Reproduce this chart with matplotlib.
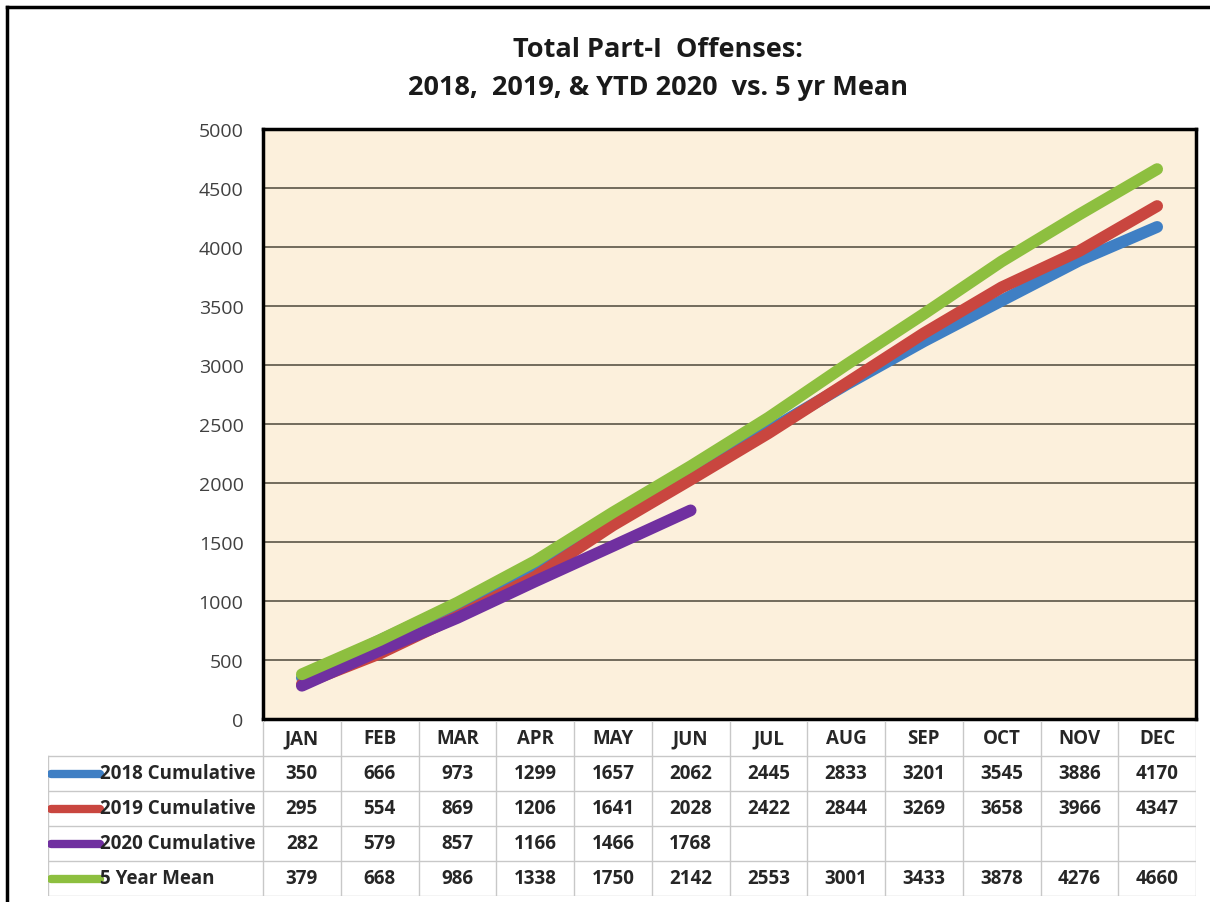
import numpy as np
import matplotlib.pyplot as plt
from matplotlib.lines import Line2D

months = ['JAN', 'FEB', 'MAR', 'APR', 'MAY', 'JUN',
          'JUL', 'AUG', 'SEP', 'OCT', 'NOV', 'DEC']
cum_2018 = [350, 666, 973, 1299, 1657, 2062, 2445, 2833, 3201, 3545, 3886, 4170]
cum_2019 = [295, 554, 869, 1206, 1641, 2028, 2422, 2844, 3269, 3658, 3966, 4347]
cum_2020 = [282, 579, 857, 1166, 1466, 1768]
mean_5yr = [379, 668, 986, 1338, 1750, 2142, 2553, 3001, 3433, 3878, 4276, 4660]

series = [
    ('2018 Cumulative', cum_2018, '#3f7fc4'),
    ('2019 Cumulative', cum_2019, '#c9463f'),
    ('2020 Cumulative', cum_2020, '#7030a0'),
    ('5 Year Mean', mean_5yr, '#8dbf3f'),
]

plt.rcParams['font.family'] = ['Open Sans', 'DejaVu Sans']

W, H = 1210, 903
fig = plt.figure(figsize=(12.1, 9.03), dpi=100)


def box(l, t, r, b):
    # pixel box -> figure fraction
    return [l / W, 1 - b / H, (r - l) / W, (b - t) / H]


# main chart
ax = fig.add_axes(box(263, 130, 1196, 720))
ax.set_facecolor('#fcf0dc')
x = np.arange(len(months))
for label, vals, color in series:
    ax.plot(x[:len(vals)], vals, color=color, lw=8.5, solid_capstyle='round')

ax.set_xlim(-0.5, 11.5)
ax.set_ylim(0, 5000)
ax.set_yticks(range(0, 5001, 500))
ax.yaxis.grid(True, color='#5a5446', lw=1.2)
ax.set_axisbelow(True)
ax.set_xticks([])
ax.tick_params(axis='y', length=0, pad=14, labelsize=14, labelcolor='#404040')
for s in ax.spines.values():
    s.set_linewidth(2.5)
    s.set_color('black')

# data table below the chart
col_w = (1196 - 263) / 12
left = -0.5 - (263 - 48) / col_w
tab = fig.add_axes(box(48, 722, 1196, 897))
tab.set_xlim(left, 11.5)
tab.set_ylim(5, 0)
tab.axis('off')

grid_c = '#c8c8c8'
for k in range(13):
    tab.plot([k - 0.5, k - 0.5], [0, 5], color=grid_c, lw=1)
tab.plot([left, left], [1, 5], color=grid_c, lw=1)
for r in range(1, 6):
    tab.plot([left, 11.5], [r, r], color=grid_c, lw=1)

txt = dict(fontsize=13.5, fontweight='bold', color='#262626')
for i, m in enumerate(months):
    tab.text(i, 0.5, m, ha='center', va='center', **txt)

key_l = left + 3 / col_w
key_r = left + 52 / col_w
for r, (label, vals, color) in enumerate(series):
    y = r + 1.5
    tab.plot([key_l, key_r], [y, y], color=color, lw=6, solid_capstyle='round')
    tab.text(key_r, y, label, ha='left', va='center', **txt)
    for i, v in enumerate(vals):
        tab.text(i, y, str(v), ha='center', va='center', **txt)

# title
title_kw = dict(ha='center', va='center', fontsize=19.5, fontweight='bold', color='#1a1a1a')
fig.text(658 / W, 1 - 50 / H, 'Total Part-I  Offenses:', **title_kw)
fig.text(658 / W, 1 - 88 / H, '2018,  2019, & YTD 2020  vs. 5 yr Mean', **title_kw)

# outer frame
fig.add_artist(Line2D([7 / W, 1], [1 - 8 / H, 1 - 8 / H], color='black', lw=2.5))
fig.add_artist(Line2D([7 / W, 7 / W], [0, 1 - 8 / H], color='black', lw=2.5))

fig.savefig('out.png', dpi=100)
